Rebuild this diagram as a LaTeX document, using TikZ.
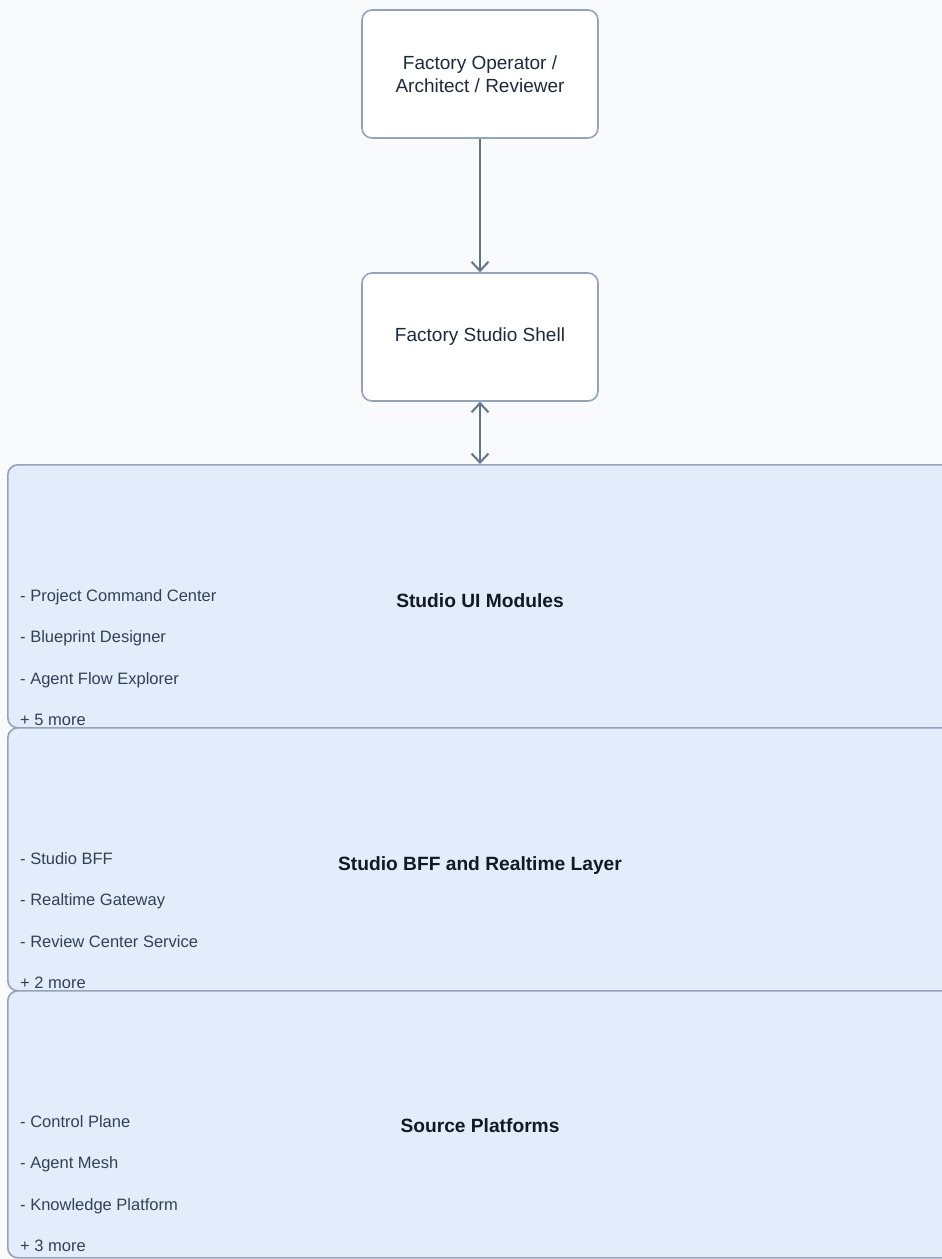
\documentclass[tikz,border=0pt]{standalone}
\usepackage{fontspec}
\setmainfont{Liberation Sans}
\usetikzlibrary{positioning,arrows.meta}

\definecolor{bgcol}{HTML}{F8FAFC}
\definecolor{edgecol}{HTML}{94A3B8}
\definecolor{linkcol}{HTML}{64748B}
\definecolor{layerfill}{HTML}{E2ECFB}
\definecolor{boxtext}{HTML}{1E293B}
\definecolor{titlecol}{HTML}{111827}
\definecolor{itemcol}{HTML}{334155}

\begin{document}
\begin{tikzpicture}[x=1pt,y=-1pt,
  box/.style={draw=edgecol,line width=1.6pt,fill=white,rounded corners=10pt,minimum width=236pt,minimum height=128pt,align=center,text=boxtext,font=\fontsize{19}{23}\selectfont},
  layer/.style={draw=edgecol,line width=1.6pt,fill=layerfill,rounded corners=10pt,anchor=north west,minimum width=946pt},
  title/.style={anchor=base,text=titlecol,font=\bfseries\fontsize{19.2}{23}\selectfont},
  item/.style={anchor=base west,inner sep=0pt,text=itemcol,font=\fontsize{16.5}{20}\selectfont},
  link/.style={line width=2pt,draw=linkcol,>={Straight Barb[length=9pt,width=17pt]}}]
\clip (0,0) rectangle (942,1259);
\fill[bgcol] (0,0) rectangle (942,1259);

\node[box] (op) at (480,74) {Factory Operator /\\Architect / Reviewer};
\node[box] (shell) at (480,337) {Factory Studio Shell};

% layers
\node[layer,minimum height=263pt] (ui) at (7,464) {};
\node[title] (uititle) at (480,607) {Studio UI Modules};
\foreach \t [count=\i] in {- Project Command Center,- Blueprint Designer,- Agent Flow Explorer,+ 5 more}
  \node[item] (ui-\i) at (20,{559.5+41.5*\i}) {\t};

\node[layer,minimum height=263pt] (bff) at (7,727) {};
\node[title] (bfftitle) at (480,870) {Studio BFF and Realtime Layer};
\foreach \t [count=\i] in {- Studio BFF,- Realtime Gateway,- Review Center Service,+ 2 more}
  \node[item] (bff-\i) at (20,{822.5+41.5*\i}) {\t};

\node[layer,minimum height=267pt] (src) at (7,990) {};
\node[title] (srctitle) at (480,1132) {Source Platforms};
\foreach \t [count=\i] in {- Control Plane,- Agent Mesh,- Knowledge Platform,+ 3 more}
  \node[item] (src-\i) at (20,{1085.5+41.5*\i}) {\t};

% links
\draw[link,->] (op) -- (shell);
\draw[link,<->] (shell.south) -- (shell.south |- ui.north);
\end{tikzpicture}
\end{document}
